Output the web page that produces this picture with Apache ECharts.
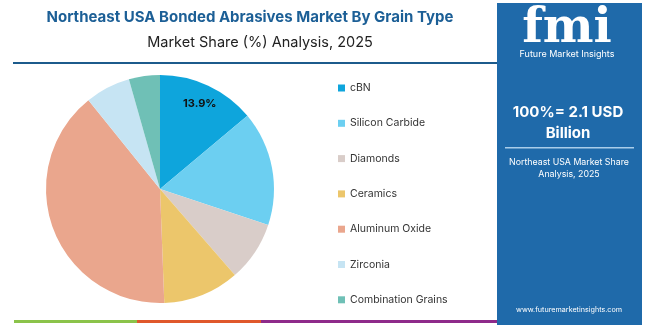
<!DOCTYPE html>
<html><head><meta charset="utf-8">
<script src="https://cdn.jsdelivr.net/npm/echarts@6/dist/echarts.min.js"></script>
<style>html,body{margin:0;padding:0;background:#fff}#c{width:650px;height:325px}</style>
</head><body><div id="c"></div>
<script>
var categories = ["cBN","Silicon Carbide","Diamonds","Ceramics","Aluminum Oxide","Zirconia","Combination Grains"];
var shares = [13.9, 16.2, 8.5, 10.8, 39.8, 6.4, 4.4];
var colors = ["#0ea5dc","#6ccff1","#d9cdc9","#ecc66b","#eaa68d","#c6e4f3","#6fc0b6"];
var labeled = ["cBN"];

var data = categories.map(function(c,i){return {name:c, value:shares[i], itemStyle:{color:colors[i]}};});
var labelData = categories.map(function(c,i){return {name:c, value:shares[i], itemStyle:{color:'rgba(0,0,0,0)'},
  label:{show: labeled.indexOf(c)>=0}};});

var chart = echarts.init(document.getElementById('c'), null, {renderer:'canvas'});
chart.setOption({
  animation:false,
  title:[
    {text:"Northeast USA Bonded Abrasives Market By Grain Type", left:245, top:5, textAlign:'center',
     textStyle:{fontFamily:'Inter', fontWeight:'bold', fontSize:15, color:'#1c5f96'}},
    {text:"Market Share (%) Analysis, 2025", left:255, top:30, textAlign:'center',
     textStyle:{fontFamily:'Inter', fontWeight:'normal', fontSize:14.5, color:'#222'}}
  ],
  legend:{orient:'vertical', left:333, top:76, itemWidth:7, itemHeight:7, itemGap:21.3, icon:'rect',
    data:categories,
    textStyle:{fontFamily:'Inter', fontSize:10.5, color:'#333', lineHeight:14}},
  graphic:[
    {type:'rect', shape:{x:13, y:62, width:487, height:2}, style:{fill:'#1c5b8c'}, z:1},
    {type:'rect', shape:{x:14, y:320, width:123, height:3}, style:{fill:'#8bc34a'}},
    {type:'rect', shape:{x:137, y:320, width:124, height:3}, style:{fill:'#e0582b'}},
    {type:'rect', shape:{x:261, y:320, width:240, height:3}, style:{fill:'#8e2a8a'}},
    {type:'rect', shape:{x:497, y:3, width:145, height:322}, style:{fill:'#1f6aaa'}, z:2},
    {type:'text', x:567, y:6, style:{text:'fmi', fill:'#fff', font:'bold 48px "DejaVu Serif"', textAlign:'center'}, z:3},
    {type:'text', x:567, y:50, style:{text:'Future Market Insights', fill:'#fff', font:'9px Inter', textAlign:'center'}, z:3},
    {type:'text', x:568, y:105, style:{text:'100%= 2.1 USD', fill:'#fff', font:'bold 15px Inter', textAlign:'center'}, z:3},
    {type:'text', x:568, y:126, style:{text:'Billion', fill:'#fff', font:'bold 15px Inter', textAlign:'center'}, z:3},
    {type:'rect', shape:{x:505, y:147, width:129, height:1.5}, style:{fill:'#a9cdea'}, z:3},
    {type:'text', x:569, y:158, style:{text:'Northeast USA Market Share', fill:'#fff', font:'8.8px Inter', textAlign:'center'}, z:3},
    {type:'text', x:569, y:170, style:{text:'Analysis, 2025', fill:'#fff', font:'8.8px Inter', textAlign:'center'}, z:3},
    {type:'text', x:569, y:306, style:{text:'www.futuremarketinsights.com', fill:'#fff', font:'7.2px Inter', textAlign:'center'}, z:3}
  ],
  series:[
    {type:'pie', center:[160,189], radius:[0,114], startAngle:90, clockwise:true, silent:true,
     label:{show:false}, labelLine:{show:false}, data:data},
    {type:'pie', center:[160,189], radius:[68,114], startAngle:90, clockwise:true, silent:true,
     legendHoverLink:false, labelLine:{show:false},
     label:{show:false, position:'inside', formatter:'{c}%', fontFamily:'Inter', fontWeight:'bold', fontSize:11, color:'#111'},
     data:labelData}
  ]
});
</script></body></html>
